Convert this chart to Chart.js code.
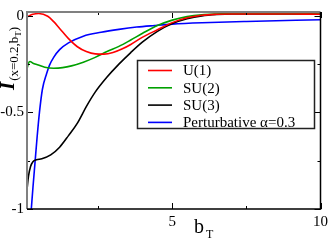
<!DOCTYPE html>
<html>
<head>
<meta charset="utf-8">
<script src="https://cdn.jsdelivr.net/npm/chart.js@4"></script>
<style>
  html, body { margin: 0; padding: 0; background: #fff; }
</style>
</head>
<body>
<canvas id="myLineChart" width="332" height="243"></canvas>
<script>
// Data
const seriesLabels = ['U(1)', 'SU(2)', 'SU(3)', 'Perturbative \u03b1=0.3'];

const u1B = [0.1, 0.3, 0.5, 0.8, 1.0, 1.2, 1.5, 1.8, 2.1, 2.4, 2.7, 3.0, 3.3, 3.6, 4.0, 4.5, 5.0, 5.5, 6.0, 6.5, 7, 8, 9, 10];
const u1I = [-0.005, 0.008, 0.012, -0.002, -0.03, -0.065, -0.118, -0.16, -0.185, -0.197, -0.198, -0.19, -0.172, -0.148, -0.11, -0.072, -0.035, -0.01, 0.003, 0.008, 0.01, 0.01, 0.01, 0.008];

const su2B = [0.1, 0.15, 0.2, 0.3, 0.45, 0.7, 1.0, 1.3, 1.6, 2.0, 2.4, 2.8, 3.2, 3.6, 4.0, 4.5, 5.0, 5.5, 6.0, 6.5, 7, 8, 9, 10];
const su2I = [-0.275, -0.245, -0.236, -0.245, -0.253, -0.266, -0.271, -0.268, -0.259, -0.24, -0.215, -0.185, -0.158, -0.125, -0.09, -0.05, -0.022, -0.004, 0.006, 0.01, 0.012, 0.012, 0.011, 0.01];

const su3B = [0.1, 0.15, 0.22, 0.3, 0.42, 0.6, 0.9, 1.2, 1.5, 1.8, 2.1, 2.4, 2.8, 3.2, 3.6, 4.0, 4.5, 5.0, 5.5, 6.0, 6.5, 7, 8, 9, 10];
const su3I = [-0.9, -0.83, -0.78, -0.755, -0.745, -0.74, -0.72, -0.68, -0.62, -0.555, -0.47, -0.395, -0.317, -0.25, -0.19, -0.135, -0.08, -0.04, -0.015, 0.0, 0.007, 0.01, 0.01, 0.01, 0.008];

const pertB = [0.245, 0.3, 0.37, 0.44, 0.52, 0.62, 0.76, 0.86, 1.0, 1.2, 1.5, 2.0, 2.6, 3.2, 3.8, 4.4, 5.0, 6, 7.5, 10];
const pertI = [-1.0, -0.89, -0.76, -0.63, -0.5, -0.38, -0.3, -0.255, -0.215, -0.175, -0.14, -0.105, -0.085, -0.07, -0.058, -0.05, -0.043, -0.036, -0.029, -0.02];

const xTicks = [2.5, 5, 7.5, 10];
const xTickLabels = ['', '5', '', '10'];
const yTicks = [-1, -0.75, -0.5, -0.25, 0];
const yTickLabels = ['-1', '', '-0.5', '', '0'];

function zip(bs, is) {
  return bs.map(function (b, i) { return { x: b, y: is[i] }; });
}

const serif = "'Liberation Serif', 'DejaVu Serif', serif";

// frame, inward ticks, legend box and axis titles
const decorations = {
  id: 'decorations',
  afterDraw: function (chart) {
    const c = chart.ctx;
    const a = chart.chartArea;
    const xs = chart.scales.x, ys = chart.scales.y;
    c.save();

    // ticks
    c.strokeStyle = '#000';
    c.lineWidth = 1;
    xTicks.forEach(function (v, i) {
      const px = Math.round(xs.getPixelForValue(v)) + 0.5;
      const len = xTickLabels[i] ? 6 : 3;
      c.beginPath();
      c.moveTo(px, a.bottom); c.lineTo(px, a.bottom - len);
      c.moveTo(px, a.top); c.lineTo(px, a.top + len);
      c.stroke();
    });
    yTicks.forEach(function (v, i) {
      const py = Math.round(ys.getPixelForValue(v)) + 0.5;
      const len = yTickLabels[i] ? 6 : 3;
      c.beginPath();
      c.moveTo(a.left, py); c.lineTo(a.left + len, py);
      c.moveTo(a.right, py); c.lineTo(a.right - len, py);
      c.stroke();
    });

    // frame
    c.lineWidth = 2;
    c.strokeStyle = '#808080';
    c.beginPath();
    c.moveTo(a.left, a.bottom); c.lineTo(a.left, a.top); c.lineTo(a.right, a.top);
    c.stroke();
    c.strokeStyle = '#000';
    c.lineWidth = 1.5;
    c.beginPath();
    c.moveTo(a.left, a.bottom); c.lineTo(a.right, a.bottom); c.lineTo(a.right, a.top);
    c.stroke();

    // legend
    const lx = 137, ly = 60, lw = 177, lh = 68;
    c.fillStyle = '#fff';
    c.fillRect(lx, ly, lw, lh);
    c.strokeStyle = '#222';
    c.lineWidth = 1.5;
    c.strokeRect(lx + 0.5, ly + 0.5, lw, lh);
    c.font = '15px ' + serif;
    c.textBaseline = 'middle';
    c.textAlign = 'left';
    chart.data.datasets.forEach(function (ds, i) {
      const y = 70.5 + i * 17.3;
      c.strokeStyle = ds.borderColor;
      c.lineWidth = 1.6;
      c.beginPath();
      c.moveTo(148, y); c.lineTo(172, y);
      c.stroke();
      c.fillStyle = '#000';
      c.fillText(ds.label, 183, y + 1);
    });

    // x title
    c.fillStyle = '#000';
    c.textBaseline = 'alphabetic';
    c.font = '20px ' + serif;
    c.fillText('b', 194, 233);
    c.font = '12px ' + serif;
    c.fillText('T', 206, 238);

    // y title
    c.translate(14, 90);
    c.rotate(-Math.PI / 2);
    c.font = 'italic bold 21px ' + serif;
    c.fillText('I', 0, 0);
    let w = c.measureText('I').width + 1;
    c.font = '13px ' + serif;
    c.fillText('(x=0.2,b', w, 4);
    w += c.measureText('(x=0.2,b').width;
    c.font = '9px ' + serif;
    c.fillText('T', w, 7);
    w += c.measureText('T').width;
    c.font = '13px ' + serif;
    c.fillText(')', w, 4);

    c.restore();
  }
};

const ctx = document.getElementById('myLineChart').getContext('2d');

const myLineChart = new Chart(ctx, {
  type: 'line',
  data: {
    datasets: [
      { label: seriesLabels[0], data: zip(u1B, u1I), borderColor: '#ff0000' },
      { label: seriesLabels[1], data: zip(su2B, su2I), borderColor: '#00a000' },
      { label: seriesLabels[2], data: zip(su3B, su3I), borderColor: '#000000' },
      { label: seriesLabels[3], data: zip(pertB, pertI), borderColor: '#0000ff' }
    ]
  },
  options: {
    responsive: false,
    animation: false,
    layout: { padding: { top: 3, right: 9, left: 0, bottom: 0 } },
    elements: {
      point: { radius: 0 },
      line: { borderWidth: 1.6, cubicInterpolationMode: 'monotone', fill: false }
    },
    plugins: {
      legend: { display: false },
      tooltip: { enabled: false }
    },
    scales: {
      x: {
        type: 'linear',
        min: 0.1,
        max: 10,
        afterFit: function (s) { s.height = 34; },
        afterBuildTicks: function (s) { s.ticks = xTicks.map(function (v) { return { value: v }; }); },
        grid: { display: false, drawTicks: false },
        border: { display: false },
        ticks: {
          padding: 4,
          color: '#000',
          font: { family: serif, size: 15 },
          maxRotation: 0,
          autoSkip: false,
          callback: function (v, i) { return xTickLabels[i]; }
        }
      },
      y: {
        type: 'linear',
        min: -1,
        max: 0.02,
        afterFit: function (s) { s.width = 27; },
        afterBuildTicks: function (s) { s.ticks = yTicks.map(function (v) { return { value: v }; }); },
        grid: { display: false, drawTicks: false },
        border: { display: false },
        ticks: {
          padding: 3,
          color: '#000',
          font: { family: serif, size: 15 },
          autoSkip: false,
          callback: function (v, i) { return yTickLabels[i]; }
        }
      }
    }
  },
  plugins: [decorations]
});
</script>
</body>
</html>
